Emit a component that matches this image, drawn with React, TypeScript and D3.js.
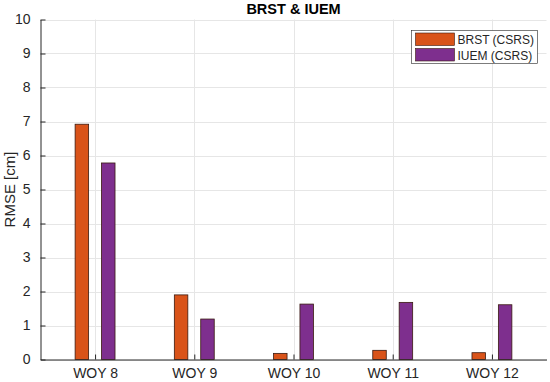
import { useRef, useEffect } from 'react';
import * as d3 from 'd3';

const categories = ['WOY 8', 'WOY 9', 'WOY 10', 'WOY 11', 'WOY 12'];
const brst = [6.92, 1.9, 0.18, 0.27, 0.2];
const iuem = [5.78, 1.19, 1.63, 1.68, 1.61];
const seriesNames = ['BRST (CSRS)', 'IUEM (CSRS)'];
const colors = ['#D95319', '#7E2F8E'];
const yTicks = [0, 1, 2, 3, 4, 5, 6, 7, 8, 9, 10];

const App = () => {
  const ref = useRef(null);
  const width = 550;
  const height = 382;

  useEffect(() => {
    const svg = d3.select(ref.current);
    svg.selectAll('*').remove();

    const left = 40.5;
    const right = 546.5;
    const top = 19.5;
    const bottom = 359.5;

    // matlab style: categories at 1..5, small margin on both sides
    const x = d3.scaleLinear().domain([0.45, 5.55]).range([left, right]);
    const y = d3.scaleLinear().domain([0, 10]).range([bottom, top]);
    const barW = 13.5;
    const offset = 13.2;

    const font = 'Liberation Sans, Arial, sans-serif';

    // grid
    svg
      .append('g')
      .selectAll('line')
      .data(yTicks)
      .enter()
      .append('line')
      .attr('x1', left)
      .attr('x2', right)
      .attr('y1', d => Math.round(y(d)) + 0.5)
      .attr('y2', d => Math.round(y(d)) + 0.5)
      .attr('stroke', '#e6e6e6');

    svg
      .append('g')
      .selectAll('line')
      .data(categories)
      .enter()
      .append('line')
      .attr('x1', (d, i) => Math.round(x(i + 1)) + 0.5)
      .attr('x2', (d, i) => Math.round(x(i + 1)) + 0.5)
      .attr('y1', top)
      .attr('y2', bottom)
      .attr('stroke', '#e6e6e6');

    // bars
    const groups = [brst, iuem];
    groups.forEach((vals, s) => {
      svg
        .append('g')
        .selectAll('rect')
        .data(vals)
        .enter()
        .append('rect')
        .attr('x', (d, i) => x(i + 1) + (s === 0 ? -offset : offset) - barW / 2)
        .attr('width', barW)
        .attr('y', d => y(d))
        .attr('height', d => y(0) - y(d))
        .attr('fill', colors[s])
        .attr('stroke', '#3a1a10')
        .attr('stroke-width', 0.8);
    });

    // axes
    const yAxis = d3
      .axisLeft(y)
      .tickValues(yTicks)
      .tickSizeInner(-5)
      .tickSizeOuter(0)
      .tickPadding(10);
    const gy = svg
      .append('g')
      .attr('transform', `translate(${left},0)`)
      .call(yAxis);
    gy.select('.domain').attr('stroke', '#262626');
    gy.selectAll('.tick line').attr('stroke', '#262626');
    gy.selectAll('text')
      .attr('fill', '#262626')
      .style('font-family', font)
      .style('font-size', '14px');

    const xAxis = d3
      .axisBottom(x)
      .tickValues([1, 2, 3, 4, 5])
      .tickFormat((d, i) => categories[i])
      .tickSizeInner(-5)
      .tickSizeOuter(0)
      .tickPadding(9);
    const gx = svg
      .append('g')
      .attr('transform', `translate(0,${bottom})`)
      .call(xAxis);
    gx.select('.domain').attr('stroke', '#262626');
    gx.selectAll('.tick line').attr('stroke', '#262626');
    gx.selectAll('text')
      .attr('fill', '#262626')
      .style('font-family', font)
      .style('font-size', '14px');

    // title
    svg
      .append('text')
      .attr('x', (left + right) / 2)
      .attr('y', 14)
      .attr('text-anchor', 'middle')
      .style('font-family', font)
      .style('font-size', '14.5px')
      .style('font-weight', 'bold')
      .attr('fill', '#000')
      .text('BRST & IUEM');

    // y label
    svg
      .append('text')
      .attr('transform', `translate(15,${(top + bottom) / 2}) rotate(-90)`)
      .attr('text-anchor', 'middle')
      .style('font-family', font)
      .style('font-size', '15px')
      .attr('fill', '#262626')
      .text('RMSE [cm]');

    // legend
    const legend = svg.append('g').attr('transform', 'translate(411.5, 30.5)');
    legend
      .append('rect')
      .attr('width', 126)
      .attr('height', 33)
      .attr('fill', '#fff')
      .attr('stroke', '#262626')
      .attr('stroke-width', 0.6);
    legend
      .selectAll('rect.sw')
      .data(seriesNames)
      .enter()
      .append('rect')
      .attr('class', 'sw')
      .attr('x', 4)
      .attr('y', (d, i) => 2.5 + i * 15.5)
      .attr('width', 39)
      .attr('height', 12.5)
      .attr('fill', (d, i) => colors[i])
      .attr('stroke', '#3a1a10')
      .attr('stroke-width', 0.6);
    legend
      .selectAll('text')
      .data(seriesNames)
      .enter()
      .append('text')
      .attr('x', 46)
      .attr('y', (d, i) => 13.5 + i * 15.5)
      .style('font-family', font)
      .style('font-size', '12px')
      .attr('fill', '#262626')
      .text(d => d);
  }, []);

  return (
    <div style={{ position: 'absolute', left: 0, top: 0 }}>
      <svg ref={ref} width={width} height={height} style={{ display: 'block', background: '#fff' }} />
    </div>
  );
};

export default App;
